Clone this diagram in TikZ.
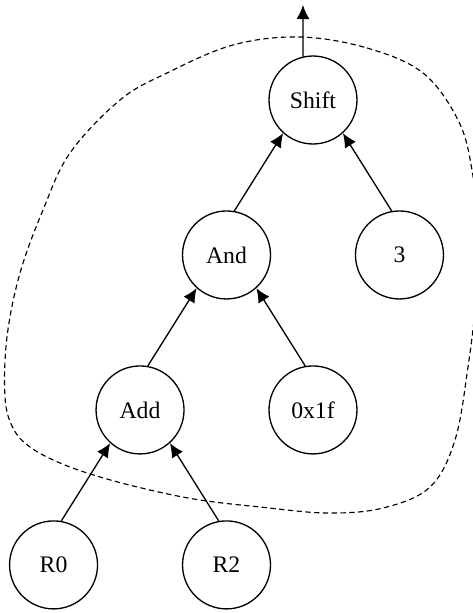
\documentclass[tikz,border=0pt]{standalone}
\usepackage{fontspec}
\setmainfont{Liberation Serif}
\usetikzlibrary{positioning,arrows.meta}
\begin{document}
\begin{tikzpicture}[x=0.02cm, y=-0.02cm, ->, >={Latex[length=2.8mm,width=2.6mm]}, line width=0.75pt,
        node distance=3.1cm and 1.73cm, on grid,
        tree node/.style={circle, draw, minimum size=1.76cm, inner sep=0pt, font=\fontsize{13.5}{15}\selectfont}]
        \clip (0,0) rectangle (473,613);

          \node[tree node] (shift) at (313,100) {Shift};
          \node[tree node] (and) [below left=of shift] {And};
          \node[tree node] (three) [below right=of shift] {3};
          \node[tree node] (add) [below left=of and] {Add};
          \node[tree node] (hex) [below right=of and] {0x1f};
          \node[tree node] (r0) [below left=of add] {R0};
          \node[tree node] (r2) [below right=of add] {R2};
          \coordinate (out) at (303,5);

          \path (shift.103) edge (out)
                (and.80) edge (shift.228)
                (three.100) edge (shift.312)
                (add.80) edge (and.228)
                (hex.100) edge (and.312)
                (r0.80) edge (add.228)
                (r2.100) edge (add.312);

          % dashed region round the matched subtree
          \draw[-, line width=0.65pt, dash pattern=on 3pt off 2pt] plot[smooth cycle, tension=0.6] coordinates {
            (300,37) (367,48) (423,73) (458,120) (472,170) (479,240) (476,300) (468,367)
            (455,440) (430,487) (383,508) (327,513) (260,507) (200,500) (150,490) (100,477)
            (60,463) (30,447) (13,428) (5,397) (7,337) (20,273) (43,210) (70,153)
            (120,100) (167,73) (233,45)};

        \end{tikzpicture}
\end{document}
